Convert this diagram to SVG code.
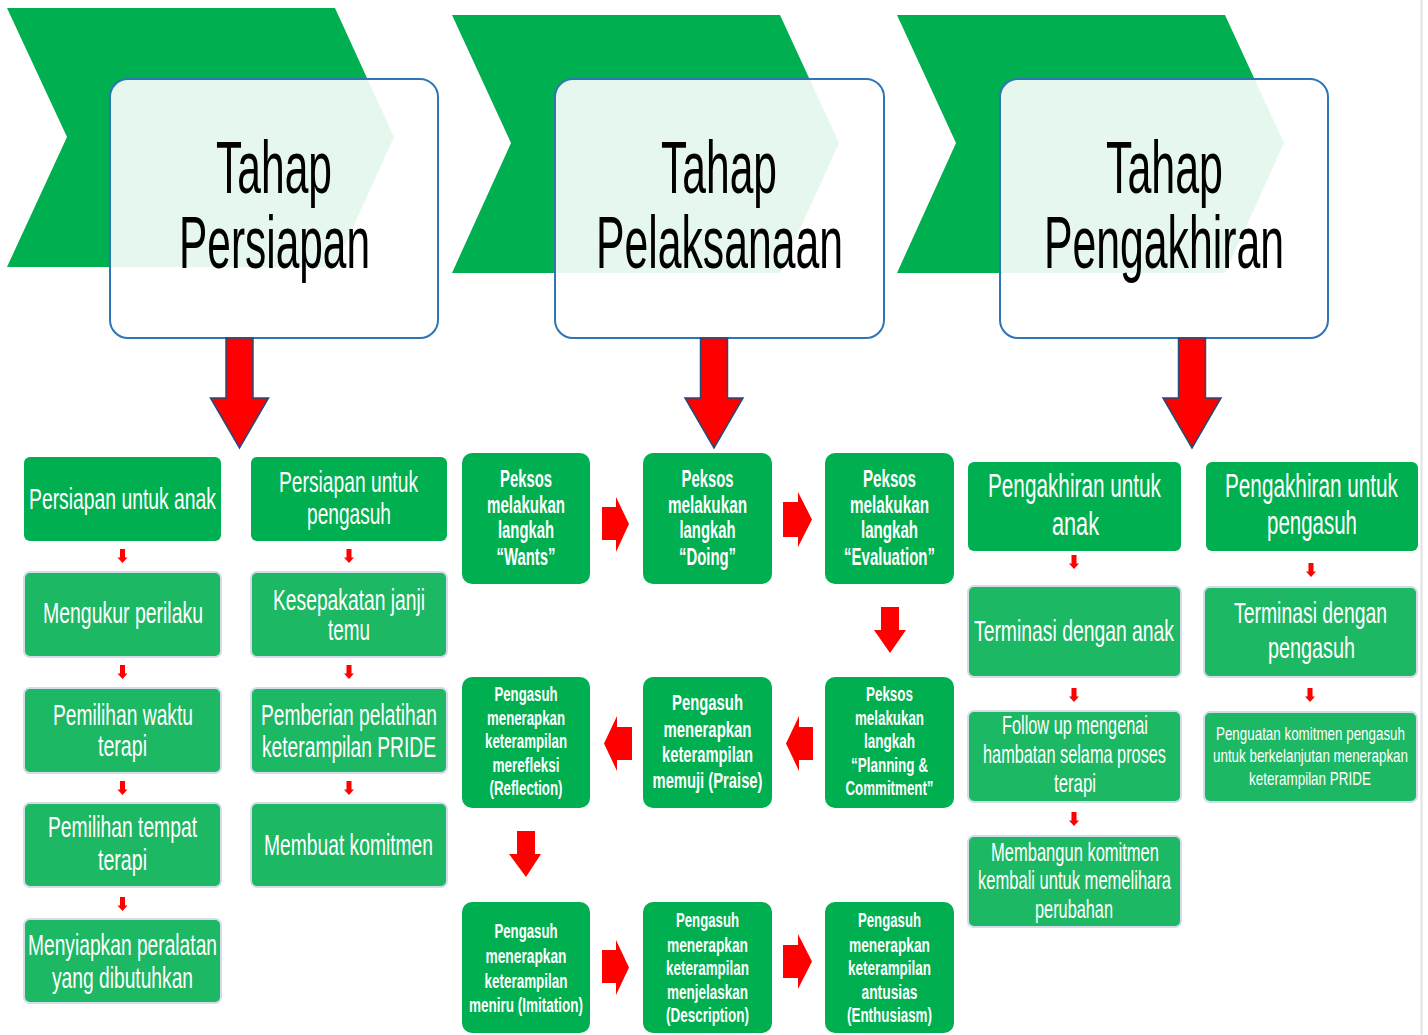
<svg xmlns="http://www.w3.org/2000/svg" xmlns:xlink="http://www.w3.org/1999/xlink" width="1428" height="1035" viewBox="0 0 1428 1035">
<style>
.chev{fill:#00B050}
.tbox{fill:#fff;fill-opacity:0.9;stroke:#2E75B6;stroke-width:2}
.title{font-family:"Liberation Sans",Arial,sans-serif;font-size:75px;fill:#000;text-anchor:middle}
.n1{fill:#00B050}
.n2{fill:#1DB863;stroke:#D3DCE8;stroke-width:2}
.t{font-family:"Liberation Sans",Arial,sans-serif;fill:#fff;text-anchor:middle}
.b{font-weight:bold}
.big{fill:#FF0000;stroke:#1F4E79;stroke-width:1.5}
.arr{fill:#FF0000}
</style>
<defs>
<path id="sa" d="M-2.5,0 H2.5 V8.5 H5 L0,14 L-5,8.5 H-2.5 Z"/>
<path id="ba" d="M-13.5,0 H13.5 V60 H29 L0,110 L-29,60 H-13.5 Z"/>
</defs>
<rect x="0" y="0" width="1428" height="1035" fill="#fff"/>
<line x1="1421.5" y1="0" x2="1421.5" y2="1035" stroke="#E2E2E2" stroke-width="2"/>

<g id="stage1">
<polygon class="chev" points="7,8 335,8 394,137 335,267 7,267 67,137"/>
<rect class="tbox" x="110" y="79" width="328" height="259" rx="18"/>
<text class="title" x="274" y="193" textLength="116" lengthAdjust="spacingAndGlyphs">Tahap</text>
<text class="title" x="274.5" y="268" textLength="191" lengthAdjust="spacingAndGlyphs">Persiapan</text>
</g>
<g id="stage2">
<polygon class="chev" points="452,15 780,15 839,143 780,273 452,273 511,143"/>
<rect class="tbox" x="555" y="79" width="329" height="259" rx="18"/>
<text class="title" x="719" y="193" textLength="116" lengthAdjust="spacingAndGlyphs">Tahap</text>
<text class="title" x="719.5" y="268" textLength="247" lengthAdjust="spacingAndGlyphs">Pelaksanaan</text>
</g>
<g id="stage3">
<polygon class="chev" points="897,15 1225,15 1284,143 1225,273 897,273 956,143"/>
<rect class="tbox" x="1000" y="79" width="328" height="259" rx="18"/>
<text class="title" x="1164.5" y="193" textLength="117" lengthAdjust="spacingAndGlyphs">Tahap</text>
<text class="title" x="1164" y="268" textLength="240" lengthAdjust="spacingAndGlyphs">Pengakhiran</text>
</g>

<!-- Persiapan column A -->
<g id="pA1"><rect class="n1" x="24" y="457" width="197" height="84" rx="6"/>
<text class="t" font-size="30" x="122.5" y="509" textLength="187" lengthAdjust="spacingAndGlyphs">Persiapan untuk anak</text></g>
<g id="pA2"><rect class="n2" x="24" y="572" width="197" height="85" rx="6"/>
<text class="t" font-size="30" x="123" y="623" textLength="160" lengthAdjust="spacingAndGlyphs">Mengukur perilaku</text></g>
<g id="pA3"><rect class="n2" x="24" y="688" width="197" height="85" rx="6"/>
<text class="t" font-size="30" x="123" y="725" textLength="140" lengthAdjust="spacingAndGlyphs">Pemilihan waktu</text>
<text class="t" font-size="30" x="122.5" y="756" textLength="49" lengthAdjust="spacingAndGlyphs">terapi</text></g>
<g id="pA4"><rect class="n2" x="24" y="803" width="197" height="84" rx="6"/>
<text class="t" font-size="30" x="122.5" y="837" textLength="149" lengthAdjust="spacingAndGlyphs">Pemilihan tempat</text>
<text class="t" font-size="30" x="122.5" y="870" textLength="49" lengthAdjust="spacingAndGlyphs">terapi</text></g>
<g id="pA5"><rect class="n2" x="24" y="919" width="197" height="84" rx="6"/>
<text class="t" font-size="30" x="122.5" y="955" textLength="189" lengthAdjust="spacingAndGlyphs">Menyiapkan peralatan</text>
<text class="t" font-size="30" x="122.5" y="988" textLength="141" lengthAdjust="spacingAndGlyphs">yang dibutuhkan</text></g>

<!-- Persiapan column B -->
<g id="pB1"><rect class="n1" x="251" y="457" width="196" height="84" rx="6"/>
<text class="t" font-size="30" x="348.5" y="492" textLength="139" lengthAdjust="spacingAndGlyphs">Persiapan untuk</text>
<text class="t" font-size="30" x="349" y="524" textLength="84" lengthAdjust="spacingAndGlyphs">pengasuh</text></g>
<g id="pB2"><rect class="n2" x="251" y="572" width="196" height="85" rx="6"/>
<text class="t" font-size="30" x="349" y="610" textLength="152" lengthAdjust="spacingAndGlyphs">Kesepakatan janji</text>
<text class="t" font-size="30" x="349" y="640" textLength="42" lengthAdjust="spacingAndGlyphs">temu</text></g>
<g id="pB3"><rect class="n2" x="251" y="688" width="196" height="85" rx="6"/>
<text class="t" font-size="30" x="349" y="725" textLength="176" lengthAdjust="spacingAndGlyphs">Pemberian pelatihan</text>
<text class="t" font-size="30" x="349" y="757" textLength="174" lengthAdjust="spacingAndGlyphs">keterampilan PRIDE</text></g>
<g id="pB4"><rect class="n2" x="251" y="803" width="196" height="84" rx="6"/>
<text class="t" font-size="30" x="348.5" y="855" textLength="169" lengthAdjust="spacingAndGlyphs">Membuat komitmen</text></g>

<!-- Pelaksanaan -->
<g id="m1"><rect class="n1" x="462" y="453" width="128" height="131" rx="10"/>
<g class="t b" font-size="24">
<text x="526" y="487" textLength="52" lengthAdjust="spacingAndGlyphs">Peksos</text>
<text x="526" y="513" textLength="78" lengthAdjust="spacingAndGlyphs">melakukan</text>
<text x="526" y="538" textLength="56" lengthAdjust="spacingAndGlyphs">langkah</text>
<text x="526" y="565" textLength="59" lengthAdjust="spacingAndGlyphs">“Wants”</text></g></g>
<g id="m2"><rect class="n1" x="643" y="453" width="129" height="131" rx="10"/>
<g class="t b" font-size="24">
<text x="707.5" y="487" textLength="52" lengthAdjust="spacingAndGlyphs">Peksos</text>
<text x="707.5" y="513" textLength="79" lengthAdjust="spacingAndGlyphs">melakukan</text>
<text x="707.5" y="538" textLength="56" lengthAdjust="spacingAndGlyphs">langkah</text>
<text x="707.5" y="565" textLength="57" lengthAdjust="spacingAndGlyphs">“Doing”</text></g></g>
<g id="m3"><rect class="n1" x="825" y="453" width="129" height="131" rx="10"/>
<g class="t b" font-size="24">
<text x="889.5" y="487" textLength="53" lengthAdjust="spacingAndGlyphs">Peksos</text>
<text x="889.5" y="513" textLength="79" lengthAdjust="spacingAndGlyphs">melakukan</text>
<text x="889.5" y="538" textLength="57" lengthAdjust="spacingAndGlyphs">langkah</text>
<text x="889.5" y="565" textLength="91" lengthAdjust="spacingAndGlyphs">“Evaluation”</text></g></g>

<g id="m4"><rect class="n1" x="462" y="677" width="128" height="131" rx="10"/>
<g class="t b" font-size="19.5">
<text x="526" y="701" textLength="63" lengthAdjust="spacingAndGlyphs">Pengasuh</text>
<text x="526" y="725" textLength="78" lengthAdjust="spacingAndGlyphs">menerapkan</text>
<text x="526" y="748" textLength="82" lengthAdjust="spacingAndGlyphs">keterampilan</text>
<text x="526" y="772" textLength="67" lengthAdjust="spacingAndGlyphs">merefleksi</text>
<text x="526" y="795" textLength="73" lengthAdjust="spacingAndGlyphs">(Reflection)</text></g></g>
<g id="m5"><rect class="n1" x="643" y="677" width="129" height="131" rx="10"/>
<g class="t b" font-size="22">
<text x="707.5" y="710" textLength="71" lengthAdjust="spacingAndGlyphs">Pengasuh</text>
<text x="707.5" y="737" textLength="88" lengthAdjust="spacingAndGlyphs">menerapkan</text>
<text x="707.5" y="762" textLength="91" lengthAdjust="spacingAndGlyphs">keterampilan</text>
<text x="707.5" y="788" textLength="110" lengthAdjust="spacingAndGlyphs">memuji (Praise)</text></g></g>
<g id="m6"><rect class="n1" x="825" y="677" width="129" height="131" rx="10"/>
<g class="t b" font-size="19.5">
<text x="889.5" y="701" textLength="47" lengthAdjust="spacingAndGlyphs">Peksos</text>
<text x="889.5" y="725" textLength="69" lengthAdjust="spacingAndGlyphs">melakukan</text>
<text x="889.5" y="748" textLength="51" lengthAdjust="spacingAndGlyphs">langkah</text>
<text x="889.5" y="772" textLength="77" lengthAdjust="spacingAndGlyphs">“Planning &amp;</text>
<text x="889.5" y="795" textLength="88" lengthAdjust="spacingAndGlyphs">Commitment”</text></g></g>

<g id="m7"><rect class="n1" x="462" y="902" width="128" height="131" rx="10"/>
<g class="t b" font-size="21">
<text x="526" y="938" textLength="63" lengthAdjust="spacingAndGlyphs">Pengasuh</text>
<text x="526" y="963" textLength="81" lengthAdjust="spacingAndGlyphs">menerapkan</text>
<text x="526" y="988" textLength="83" lengthAdjust="spacingAndGlyphs">keterampilan</text>
<text x="526" y="1012" textLength="114" lengthAdjust="spacingAndGlyphs">meniru (Imitation)</text></g></g>
<g id="m8"><rect class="n1" x="643" y="902" width="129" height="131" rx="10"/>
<g class="t b" font-size="20.5">
<text x="707.5" y="927" textLength="63" lengthAdjust="spacingAndGlyphs">Pengasuh</text>
<text x="707.5" y="952" textLength="81" lengthAdjust="spacingAndGlyphs">menerapkan</text>
<text x="707.5" y="975" textLength="83" lengthAdjust="spacingAndGlyphs">keterampilan</text>
<text x="707.5" y="999" textLength="81" lengthAdjust="spacingAndGlyphs">menjelaskan</text>
<text x="707.5" y="1022" textLength="83" lengthAdjust="spacingAndGlyphs">(Description)</text></g></g>
<g id="m9"><rect class="n1" x="825" y="902" width="129" height="131" rx="10"/>
<g class="t b" font-size="20.5">
<text x="889.5" y="927" textLength="63" lengthAdjust="spacingAndGlyphs">Pengasuh</text>
<text x="889.5" y="952" textLength="81" lengthAdjust="spacingAndGlyphs">menerapkan</text>
<text x="889.5" y="975" textLength="83" lengthAdjust="spacingAndGlyphs">keterampilan</text>
<text x="889.5" y="999" textLength="56" lengthAdjust="spacingAndGlyphs">antusias</text>
<text x="889.5" y="1022" textLength="85" lengthAdjust="spacingAndGlyphs">(Enthusiasm)</text></g></g>

<!-- Pengakhiran column A -->
<g id="eA1"><rect class="n1" x="968" y="462" width="213" height="89" rx="6"/>
<text class="t" font-size="33" x="1074.5" y="497" textLength="173" lengthAdjust="spacingAndGlyphs">Pengakhiran untuk</text>
<text class="t" font-size="33" x="1075.5" y="535" textLength="47" lengthAdjust="spacingAndGlyphs">anak</text></g>
<g id="eA2"><rect class="n2" x="968" y="586" width="213" height="91" rx="6"/>
<text class="t" font-size="30" x="1074" y="641" textLength="200" lengthAdjust="spacingAndGlyphs">Terminasi dengan anak</text></g>
<g id="eA3"><rect class="n2" x="968" y="711" width="213" height="91" rx="6"/>
<text class="t" font-size="25" x="1075" y="734" textLength="146" lengthAdjust="spacingAndGlyphs">Follow up mengenai</text>
<text class="t" font-size="25" x="1074.5" y="763" textLength="183" lengthAdjust="spacingAndGlyphs">hambatan selama proses</text>
<text class="t" font-size="25" x="1075" y="792" textLength="42" lengthAdjust="spacingAndGlyphs">terapi</text></g>
<g id="eA4"><rect class="n2" x="968" y="836" width="213" height="91" rx="6"/>
<text class="t" font-size="25" x="1075" y="861" textLength="168" lengthAdjust="spacingAndGlyphs">Membangun komitmen</text>
<text class="t" font-size="25" x="1074.5" y="889" textLength="193" lengthAdjust="spacingAndGlyphs">kembali untuk memelihara</text>
<text class="t" font-size="25" x="1074" y="918" textLength="78" lengthAdjust="spacingAndGlyphs">perubahan</text></g>

<!-- Pengakhiran column B -->
<g id="eB1"><rect class="n1" x="1206" y="462" width="212" height="89" rx="6"/>
<text class="t" font-size="33" x="1311.5" y="497" textLength="173" lengthAdjust="spacingAndGlyphs">Pengakhiran untuk</text>
<text class="t" font-size="33" x="1312" y="534" textLength="90" lengthAdjust="spacingAndGlyphs">pengasuh</text></g>
<g id="eB2"><rect class="n2" x="1204" y="587" width="213" height="90" rx="6"/>
<text class="t" font-size="30" x="1310.5" y="623" textLength="153" lengthAdjust="spacingAndGlyphs">Terminasi dengan</text>
<text class="t" font-size="30" x="1311.5" y="658" textLength="87" lengthAdjust="spacingAndGlyphs">pengasuh</text></g>
<g id="eB3"><rect class="n2" x="1204" y="712" width="213" height="90" rx="6"/>
<text class="t" font-size="18.5" x="1310.5" y="740" textLength="189" lengthAdjust="spacingAndGlyphs">Penguatan komitmen pengasuh</text>
<text class="t" font-size="18.5" x="1310.5" y="762" textLength="195" lengthAdjust="spacingAndGlyphs">untuk berkelanjutan menerapkan</text>
<text class="t" font-size="18.5" x="1310" y="785" textLength="122" lengthAdjust="spacingAndGlyphs">keterampilan PRIDE</text></g>

<g id="connectors">
<use href="#ba" x="239.5" y="338" class="big"/>
<use href="#ba" x="714" y="338" class="big"/>
<use href="#ba" x="1192" y="338" class="big"/>

<g class="arr">
<use href="#sa" x="122.5" y="549"/>
<use href="#sa" x="122.5" y="665"/>
<use href="#sa" x="122.5" y="781"/>
<use href="#sa" x="122.5" y="897"/>
<use href="#sa" x="349" y="549"/>
<use href="#sa" x="349" y="665"/>
<use href="#sa" x="349" y="781"/>
<use href="#sa" x="1074" y="555"/>
<use href="#sa" x="1074" y="688"/>
<use href="#sa" x="1074" y="812"/>
<use href="#sa" x="1311" y="563"/>
<use href="#sa" x="1310" y="688"/>

<path d="M602,507 H616 V497 L629,524 L616,552 V540 H602 Z"/>
<path d="M783,502 H798 V492 L812,519.5 L798,547 V537 H783 Z"/>
<path d="M881,607 H899 V630 H906 L890,653 L874,630 H881 Z"/>
<path d="M632,727 H617 V716 L604,743.5 L617,771 V760 H632 Z"/>
<path d="M813,727 H799 V716 L786,743.5 L799,771 V760 H813 Z"/>
<path d="M517,831 H535 V854 H541 L526,877 L509,854 H517 Z"/>
<path d="M602,950 H616 V940 L629,967.5 L616,995 V983 H602 Z"/>
<path d="M783,945 H798 V934 L812,961.5 L798,989 V978 H783 Z"/>
</g>
</g>
</svg>
